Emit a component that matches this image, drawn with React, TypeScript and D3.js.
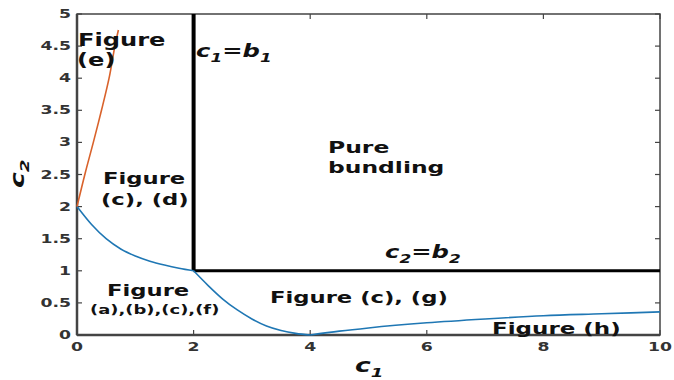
import React from "react";
import * as d3 from "d3";

// region boundary curves (c1, c2)
const blueLeftC1 = [0, 0.25, 0.5, 0.75, 1, 1.25, 1.5, 1.75, 2];
const blueLeftC2 = [2, 1.72, 1.5, 1.34, 1.23, 1.15, 1.09, 1.04, 1];
const blueMidC1 = [2, 2.25, 2.5, 2.75, 3, 3.25, 3.5, 3.75, 4];
const blueMidC2 = [1, 0.77, 0.56, 0.39, 0.25, 0.14, 0.07, 0.025, 0];
const blueRightC1 = [4, 4.5, 5, 6, 7, 8, 9, 10];
const blueRightC2 = [0, 0.06, 0.11, 0.19, 0.25, 0.3, 0.33, 0.36];
const orangeC1 = [0, 0.14, 0.28, 0.42, 0.55, 0.65, 0.71];
const orangeC2 = [2, 2.52, 3.0, 3.5, 4.0, 4.5, 4.75];

const b1 = 2;
const b2 = 1;

const xTicks = [0, 2, 4, 6, 8, 10];
const yTicks = [0, 0.5, 1, 1.5, 2, 2.5, 3, 3.5, 4, 4.5, 5];

const W = 674;
const H = 380;
const SX = 1.42; // the picture is stretched sideways

const x = d3.scaleLinear().domain([0, 10]).range([77, 660]);
const y = d3.scaleLinear().domain([0, 5]).range([335, 14]);

const zip = (a: number[], b: number[]) => a.map((v, i) => [v, b[i]] as [number, number]);

const line = d3
  .line<[number, number]>()
  .x((d) => x(d[0]))
  .y((d) => y(d[1]))
  .curve(d3.curveMonotoneX);

const orangeLine = d3
  .line<[number, number]>()
  .x((d) => x(d[0]))
  .y((d) => y(d[1]))
  .curve(d3.curveCatmullRom);

const FONT = "DejaVu Sans";
const INK = "#111";

function Label({ x0, y0, size, children, italic, sx = SX }: any) {
  return (
    <text
      transform={`translate(${x0},${y0}) scale(${sx},1)`}
      fontFamily={FONT}
      fontWeight="bold"
      fontStyle={italic ? "italic" : "normal"}
      fontSize={size}
      fill={INK}
    >
      {children}
    </text>
  );
}

export default function App() {
  const axisColor = "#444";
  return (
    <svg width={W} height={H} style={{ position: "absolute", left: 0, top: 0, background: "#fff" }}>
      {/* frame */}
      <rect x={x(0)} y={y(5)} width={x(10) - x(0)} height={y(0) - y(5)} fill="none" stroke={axisColor} strokeWidth={1.5} />
      <line x1={x(0)} x2={x(0)} y1={y(0)} y2={y(5)} stroke={axisColor} strokeWidth={2.5} />
      <line x1={x(0)} x2={x(10)} y1={y(0)} y2={y(0)} stroke={axisColor} strokeWidth={2.5} />

      {/* ticks */}
      {xTicks.map((t) => (
        <g key={"x" + t}>
          <line x1={x(t)} x2={x(t)} y1={y(0)} y2={y(0) - 5} stroke={axisColor} strokeWidth={1.2} />
          <line x1={x(t)} x2={x(t)} y1={y(5)} y2={y(5) + 5} stroke={axisColor} strokeWidth={1.2} />
          <text
            transform={`translate(${x(t)},${y(0) + 16}) scale(1.5,1)`}
            textAnchor="middle"
            fontFamily={FONT}
            fontWeight="bold"
            fontSize={11.5}
            fill="#333"
          >
            {t}
          </text>
        </g>
      ))}
      {yTicks.map((t) => (
        <g key={"y" + t}>
          <line x1={x(0)} x2={x(0) + 5} y1={y(t)} y2={y(t)} stroke={axisColor} strokeWidth={1.2} />
          <line x1={x(10)} x2={x(10) - 5} y1={y(t)} y2={y(t)} stroke={axisColor} strokeWidth={1.2} />
          <text
            transform={`translate(${x(0) - 6},${y(t) + 4}) scale(1.5,1)`}
            textAnchor="end"
            fontFamily={FONT}
            fontWeight="bold"
            fontSize={11.5}
            fill="#333"
          >
            {t}
          </text>
        </g>
      ))}

      {/* axis titles */}
      <text transform={`translate(355,372) scale(1.4,1)`} fontFamily={FONT} fontWeight="bold" fontStyle="italic" fontSize={19} fill={INK}>
        c<tspan fontSize={13} dy={5}>1</tspan>
      </text>
      <text transform={`translate(24,188) rotate(-90) scale(1.4,1)`} fontFamily={FONT} fontWeight="bold" fontStyle="italic" fontSize={19} fill={INK}>
        c<tspan fontSize={13} dy={5}>2</tspan>
      </text>

      {/* thresholds */}
      <line x1={x(b1)} x2={x(b1)} y1={y(b2)} y2={y(5)} stroke="#000" strokeWidth={4} />
      <line x1={x(b1)} x2={x(10)} y1={y(b2)} y2={y(b2)} stroke="#000" strokeWidth={3} />

      {/* boundary curves */}
      <path d={line(zip(blueLeftC1, blueLeftC2)) || ""} fill="none" stroke="#1f77b4" strokeWidth={1.6} />
      <path d={line(zip(blueMidC1, blueMidC2)) || ""} fill="none" stroke="#1f77b4" strokeWidth={1.6} />
      <path d={line(zip(blueRightC1, blueRightC2)) || ""} fill="none" stroke="#1f77b4" strokeWidth={1.6} />
      <path d={orangeLine(zip(orangeC1, orangeC2)) || ""} fill="none" stroke="#d9622b" strokeWidth={1.6} />

      {/* region labels */}
      <Label x0={78} y0={46} size={17}>Figure</Label>
      <Label x0={77} y0={66} size={17}>(e)</Label>

      <text transform={`translate(196,57) scale(1.35,1)`} fontFamily={FONT} fontWeight="bold" fontStyle="italic" fontSize={18} fill={INK}>
        c<tspan fontSize={12.5} dy={5}>1</tspan>
        <tspan dy={-5}>=b</tspan>
        <tspan fontSize={12.5} dy={5}>1</tspan>
      </text>

      <Label x0={328} y0={153} size={16.5}>Pure</Label>
      <Label x0={328} y0={173} size={16.5}>bundling</Label>

      <Label x0={103} y0={184} size={16}>Figure</Label>
      <Label x0={101} y0={205} size={16}>(c), (d)</Label>

      <text transform={`translate(385,258) scale(1.35,1)`} fontFamily={FONT} fontWeight="bold" fontStyle="italic" fontSize={18} fill={INK}>
        c<tspan fontSize={12.5} dy={5}>2</tspan>
        <tspan dy={-5}>=b</tspan>
        <tspan fontSize={12.5} dy={5}>2</tspan>
      </text>

      <Label x0={107} y0={296} size={16}>Figure</Label>
      <Label x0={90} y0={314} size={13} sx={1.38}>(a),(b),(c),(f)</Label>

      <Label x0={270} y0={303} size={16}>Figure (c), (g)</Label>
      <Label x0={492} y0={334} size={16.2}>Figure (h)</Label>
    </svg>
  );
}
